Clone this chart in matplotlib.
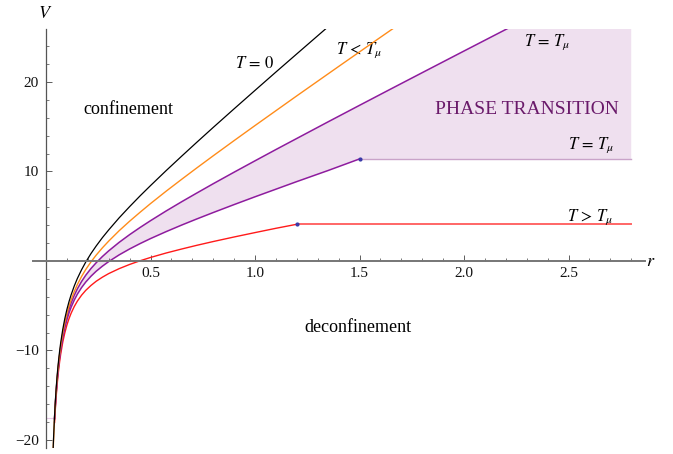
import numpy as np
import matplotlib
matplotlib.use("Agg")
import matplotlib.pyplot as plt
from matplotlib.ticker import FixedLocator, MultipleLocator

plt.rcParams['font.family'] = ['Liberation Serif', 'DejaVu Serif']
plt.rcParams['mathtext.fontset'] = 'stix'

# ---- data ----
r_black = [0.032, 0.035, 0.04, 0.045, 0.05, 0.055, 0.06, 0.065, 0.07, 0.08, 0.09, 0.1, 0.11,
           0.12, 0.135, 0.15, 0.17, 0.19, 0.215, 0.24, 0.27, 0.3, 0.35, 0.4, 0.45, 0.5,
           0.575, 0.65, 0.72, 0.8, 0.9, 1.0, 1.1, 1.2, 1.36]
V_black = [-22.49, -20.45, -17.71, -15.55, -13.81, -12.37, -11.15, -10.10, -9.19, -7.67,
           -6.44, -5.42, -4.55, -3.79, -2.81, -1.96, -0.99, -0.13, 0.82, 1.67, 2.61, 3.47,
           4.82, 6.07, 7.27, 8.42, 10.10, 11.73, 13.23, 14.92, 17.00, 19.06, 21.11, 23.14, 26.38]

r_orange = [0.032, 0.035, 0.04, 0.045, 0.05, 0.055, 0.06, 0.065, 0.07, 0.08, 0.09, 0.1, 0.11,
            0.12, 0.135, 0.15, 0.17, 0.19, 0.215, 0.24, 0.27, 0.3, 0.35, 0.4, 0.45, 0.5,
            0.575, 0.65, 0.72, 0.8, 0.9, 1.0, 1.1, 1.2, 1.3, 1.4, 1.5, 1.6, 1.7]
V_orange = [-22.71, -20.68, -17.96, -15.83, -14.10, -12.68, -11.48, -10.45, -9.55, -8.07,
            -6.89, -5.90, -5.07, -4.35, -3.43, -2.64, -1.74, -0.96, -0.11, 0.65, 1.47, 2.22,
            3.38, 4.44, 5.44, 6.41, 7.80, 9.14, 10.37, 11.75, 13.45, 15.13, 16.79, 18.45,
            20.09, 21.73, 23.36, 24.99, 26.61]

r_p1 = [0.041, 0.045, 0.05, 0.055, 0.06, 0.065, 0.07, 0.08, 0.09, 0.1, 0.11, 0.12, 0.135,
        0.15, 0.17, 0.19, 0.215, 0.24, 0.27, 0.3, 0.35, 0.4, 0.45, 0.5, 0.575, 0.65, 0.72,
        0.8, 0.9, 1.0, 1.1, 1.2, 1.35, 1.5, 1.65, 1.8, 2.0, 2.2, 2.5, 2.8]
V_p1 = [-17.53, -15.88, -14.18, -12.77, -11.59, -10.58, -9.71, -8.27, -7.12, -6.18, -5.39,
        -4.71, -3.84, -3.12, -2.30, -1.60, -0.85, -0.20, 0.50, 1.13, 2.08, 2.94, 3.74, 4.50,
        5.59, 6.63, 7.57, 8.63, 9.92, 11.19, 12.45, 13.69, 15.55, 17.39, 19.22, 21.04,
        23.46, 25.87, 29.48, 33.09]

r_p2 = [0.041, 0.045, 0.05, 0.055, 0.06, 0.065, 0.07, 0.08, 0.09, 0.1, 0.11, 0.12, 0.135,
        0.15, 0.17, 0.19, 0.215, 0.24, 0.27, 0.3, 0.35, 0.4, 0.45, 0.5, 0.575, 0.65, 0.72,
        0.8, 0.9, 1.0, 1.1, 1.2, 1.35, 1.5]
V_p2 = [-17.69, -16.05, -14.37, -12.98, -11.82, -10.83, -9.98, -8.58, -7.47, -6.57, -5.82,
        -5.18, -4.38, -3.71, -2.98, -2.36, -1.71, -1.15, -0.58, -0.07, 0.68, 1.34, 1.94,
        2.50, 3.28, 4.02, 4.68, 5.41, 6.30, 7.17, 8.02, 8.87, 10.11, 11.40]
V_p2_flat = 11.40

r_red = [0.041, 0.045, 0.05, 0.055, 0.06, 0.065, 0.07, 0.08, 0.09, 0.1, 0.11, 0.12, 0.135,
         0.15, 0.17, 0.19, 0.215, 0.24, 0.27, 0.3, 0.35, 0.4, 0.45, 0.5, 0.575, 0.65, 0.72,
         0.8, 0.9, 1.0, 1.1, 1.2]
V_red = [-18.05, -16.43, -14.77, -13.40, -12.26, -11.29, -10.46, -9.09, -8.03, -7.16, -6.45,
         -5.85, -5.10, -4.49, -3.83, -3.29, -2.74, -2.27, -1.81, -1.41, -0.86, -0.39, 0.02,
         0.39, 0.89, 1.34, 1.74, 2.17, 2.68, 3.17, 3.65, 4.10]
V_red_flat = 4.10
r_end = 2.8

x_ticks = [0.5, 1.0, 1.5, 2.0, 2.5]
x_ticklabels = ['0.5', '1.0', '1.5', '2.0', '2.5']
y_ticks = [-20, -10, 10, 20]
y_ticklabels = ['\u221220', '\u221210', '10', '20']

# ---- figure ----
W, H = 673, 454
fig = plt.figure(figsize=(W / 100, H / 100), dpi=100)
ax = fig.add_axes([33 / W, 6 / H, 612 / W, 419 / H])
xmin, xmax = -0.0622, 2.866
ymin, ymax = -20.9, 25.92
ax.set_xlim(xmin, xmax)
ax.set_ylim(ymin, ymax)

fill_c = '#EFE0EF'
purple = '#8E1C9E'

# shaded phase-transition region
r_fill = np.array(r_p1)
n_extra = len(r_p1) - len(r_p2)
lower = np.array(V_p2 + [V_p2_flat] * n_extra)
upper = np.array(V_p1)
ax.fill_between(r_fill, upper, lower, color=fill_c, lw=0, zorder=1)
ax.plot([0.003, r_p2[0]], [V_p2[0] + 0.15, V_p2[0] + 0.15], color='#E8C8E8', lw=0.8, zorder=1)

# flat continuations
ax.plot([r_p2[-1], r_end], [V_p2_flat, V_p2_flat], color='#C9A3C9', lw=1.0, zorder=2)
ax.plot([r_red[-1], r_end], [V_red_flat, V_red_flat], color='#FF6666', lw=1.4, zorder=2)

# curves
ax.plot(r_red, V_red, color='#FF1A1A', lw=1.0, zorder=3)
ax.plot(r_p2, V_p2, color=purple, lw=1.1, zorder=4)
ax.plot(r_p1, V_p1, color=purple, lw=1.1, zorder=4)
ax.plot(r_orange, V_orange, color='#FF8C1A', lw=1.0, zorder=5)
ax.plot(r_black, V_black, color='black', lw=0.9, zorder=6)

# junction dots
ax.plot([r_red[-1], r_p2[-1]], [V_red_flat, V_p2_flat], 'o', color='#3A3AA8', ms=2.0, zorder=7)

# axes styling (Mathematica-like)
for s in ['top', 'right']:
    ax.spines[s].set_visible(False)
ax.spines['left'].set_position(('data', 0))
ax.spines['bottom'].set_position(('data', 0))
ax.spines['left'].set_color('#555555')
ax.spines['left'].set_linewidth(0.9)
ax.spines['bottom'].set_color('#767676')
ax.spines['bottom'].set_linewidth(1.4)
ax.spines['left'].set_zorder(8)
ax.spines['bottom'].set_zorder(8)

ax.xaxis.set_major_locator(FixedLocator(x_ticks))
ax.xaxis.set_minor_locator(MultipleLocator(0.1))
ax.yaxis.set_major_locator(FixedLocator(y_ticks))
ax.yaxis.set_minor_locator(MultipleLocator(2))
ax.set_xticklabels(x_ticklabels)
ax.set_yticklabels(y_ticklabels)
ax.tick_params(which='major', direction='in', length=4, width=0.6, color='#444444',
               labelsize=11, labelcolor='#111111')
ax.tick_params(which='minor', direction='in', length=2.3, width=0.5, color='#444444')
ax.tick_params(axis='x', pad=4)
ax.tick_params(axis='y', pad=5)

# texts
ax.text(-0.004, 27.6, '$V$', fontsize=13, ha='center', va='center', clip_on=False)
ax.text(2.895, -0.1, '$r$', fontsize=13, ha='center', va='center', clip_on=False)
ax.text(1.0, 22.0, '$T\\,=\\,0$', fontsize=12, ha='center', va='center')
ax.text(1.50, 23.6, '$T\\,<\\,T_\\mu$', fontsize=12, ha='center', va='center')
ax.text(2.40, 24.5, '$T\\,=\\,T_\\mu$', fontsize=12, ha='center', va='center')
ax.text(2.608, 12.9, '$T\\,=\\,T_\\mu$', fontsize=12, ha='center', va='center')
ax.text(2.603, 4.9, '$T\\,>\\,T_\\mu$', fontsize=12, ha='center', va='center')
ax.text(2.301, 16.9, 'PHASE TRANSITION', fontsize=14, color='#6A1A6A', ha='center', va='center')
ax.text(0.392, 16.9, 'confinement', fontsize=13, ha='center', va='center')
ax.text(1.493, -7.4, 'deconfinement', fontsize=13, ha='center', va='center')

fig.savefig('out.png', dpi=100)
